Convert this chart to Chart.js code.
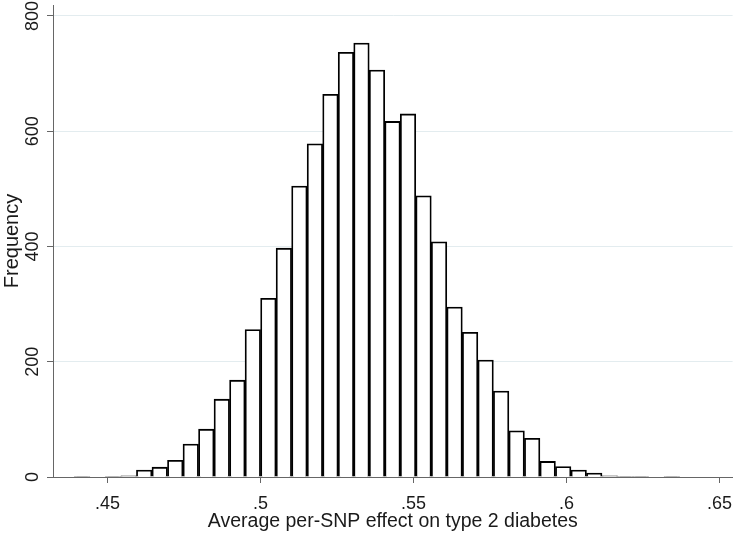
<!DOCTYPE html>
<html>
<head>
<meta charset="utf-8">
<script src="https://cdn.jsdelivr.net/npm/chart.js@4.4.1/dist/chart.umd.min.js"></script>
<style>
    html, body { margin: 0; padding: 0; background: #fff; }
    #wrap { width: 742px; height: 533px; position: relative; }
</style>
</head>
<body>
<div id="wrap"><canvas id="chart"></canvas></div>
<script>
// histogram bins (centres) and their counts
const binCenters = [
    0.44174, 0.44681, 0.45188, 0.45695, 0.46202, 0.46710, 0.47217, 0.47724,
    0.48231, 0.48738, 0.49245, 0.49752, 0.50259, 0.50766, 0.51273, 0.51780,
    0.52288, 0.52795, 0.53302, 0.53809, 0.54316, 0.54823, 0.55330, 0.55837,
    0.56344, 0.56852, 0.57359, 0.57866, 0.58373, 0.58880, 0.59387, 0.59894,
    0.60401, 0.60908, 0.61415, 0.61923, 0.62430, 0.62937, 0.63444
];
const frequencies = [
    1, 0, 1, 2, 12, 17, 29, 57,
    83, 135, 168, 256, 310, 397, 505, 578,
    664, 737, 753, 706, 617, 630, 488, 408,
    295, 251, 203, 149, 80, 67, 27, 18,
    12, 7, 2, 1, 1, 0, 1
];
const xTicks = [0.45, 0.5, 0.55, 0.6, 0.65];
const yTicks = [0, 200, 400, 600, 800];

const COLORS = {
    text: '#1a1a1a',
    axis: '#666666',
    grid: '#e3ecef',
    bar: '#000000'
};
const FONT = '"Liberation Sans", Arial, sans-serif';

// y tick labels are drawn rotated, centred on the tick
const yTickLabels = {
    id: 'yTickLabels',
    afterDraw(chart) {
        const { ctx, scales: { y } } = chart;
        ctx.save();
        ctx.font = '18px ' + FONT;
        ctx.fillStyle = COLORS.text;
        ctx.textAlign = 'center';
        ctx.textBaseline = 'middle';
        yTicks.forEach(v => {
            ctx.save();
            ctx.translate(y.right - 20, y.getPixelForValue(v));
            ctx.rotate(-Math.PI / 2);
            ctx.fillText(String(v), 0, 0);
            ctx.restore();
        });
        ctx.restore();
    }
};

new Chart(document.getElementById('chart'), {
    type: 'bar',
    data: {
        datasets: [{
            data: binCenters.map((x, i) => ({ x, y: frequencies[i] })),
            backgroundColor: '#ffffff',
            borderColor: COLORS.bar,
            borderWidth: 1.8,
            barPercentage: 1,
            categoryPercentage: 1
        }]
    },
    options: {
        responsive: true,
        maintainAspectRatio: false,
        animation: false,
        devicePixelRatio: 1,
        layout: { padding: { top: 5, right: 2, left: 0, bottom: 0 } },
        plugins: {
            legend: { display: false },
            tooltip: { enabled: false }
        },
        scales: {
            x: {
                type: 'linear',
                offset: false,
                min: 0.43222,
                max: 0.6543,
                afterBuildTicks: s => { s.ticks = xTicks.map(v => ({ value: v })); },
                afterFit: s => { s.height = 56; },
                grid: { drawOnChartArea: false, offset: false, tickColor: COLORS.axis, tickLength: 6 },
                border: { color: COLORS.axis, width: 1 },
                ticks: {
                    color: COLORS.text,
                    padding: 10,
                    maxRotation: 0,
                    font: { family: FONT, size: 18 },
                    callback: v => String(v).replace(/^0\./, '.')
                },
                title: {
                    display: true,
                    text: 'Average per-SNP effect on type 2 diabetes',
                    color: COLORS.text,
                    font: { family: FONT, size: 19.5 },
                    padding: { top: 0, bottom: 0 }
                }
            },
            y: {
                min: 0,
                max: 819,
                afterBuildTicks: s => { s.ticks = yTicks.map(v => ({ value: v })); },
                afterFit: s => { s.width = 53; },
                grid: { color: COLORS.grid, tickColor: COLORS.axis, tickLength: 6, lineWidth: 1 },
                border: { color: COLORS.axis, width: 1 },
                ticks: { display: false },
                title: {
                    display: true,
                    text: 'Frequency',
                    color: COLORS.text,
                    font: { family: FONT, size: 20 },
                    padding: { top: 0, bottom: 0 }
                }
            }
        }
    },
    plugins: [yTickLabels]
});
</script>
</body>
</html>
